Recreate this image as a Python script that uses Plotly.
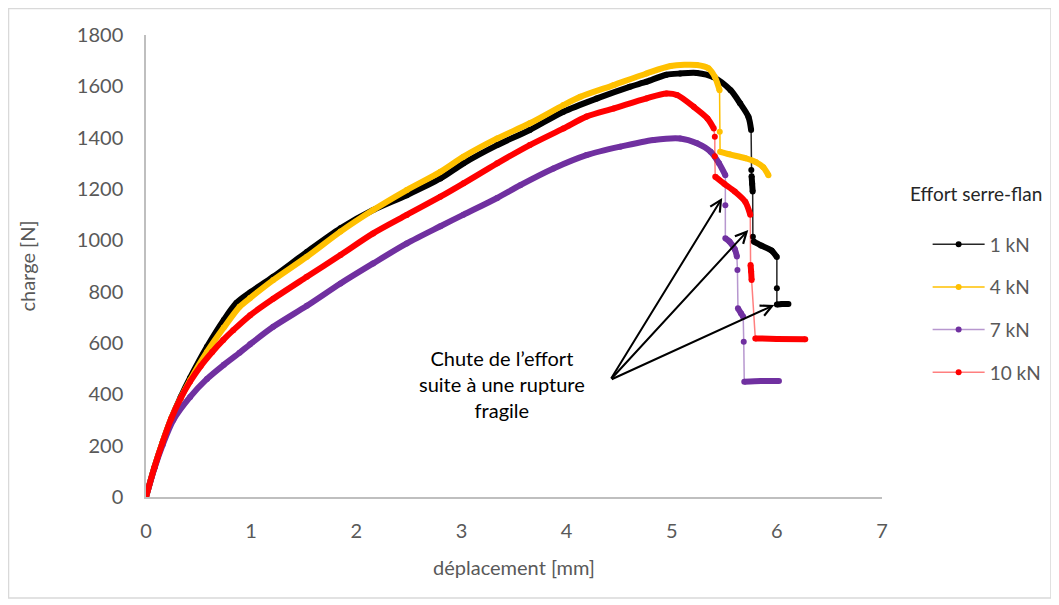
import plotly.graph_objects as go

# ── Data ────────────────────────────────────────────────────────────────────
# Each series is split into continuous parts; between two parts the load
# drops (brittle failure) and the isolated points of that drop are listed
# in drop_x / drop_y, one list per gap.
labels = ["1 kN", "4 kN", "7 kN", "10 kN"]

x_1kn = [
    [0, 0.08, 0.16, 0.24, 0.33, 0.42, 0.58, 0.74, 0.86, 0.99, 1.21, 1.53, 1.85,
     2.16, 2.48, 2.8, 3.02, 3.34, 3.65, 3.97, 4.29, 4.6, 4.76, 4.95, 5.08, 5.24,
     5.4, 5.56, 5.65, 5.73, 5.755],
    [5.76, 5.765, 5.77],
    [5.78, 5.85, 5.95, 6.0],
    [6.0, 6.05, 6.11],
]
y_1kn = [
    [0, 115, 215, 305, 390, 465, 585, 690, 756, 797, 858, 955, 1047,
     1118, 1176, 1241, 1300, 1371, 1430, 1501, 1553, 1598, 1618, 1645, 1650, 1652,
     1635, 1585, 1534, 1481, 1430],
    [1250, 1220, 1190],
    [995, 980, 960, 935],
    [750, 752, 752],
]
drop_x_1kn = [[5.757], [5.772], [6.0]]
drop_y_1kn = [[1274], [1014], [813]]

x_4kn = [
    [0, 0.08, 0.16, 0.24, 0.33, 0.42, 0.58, 0.74, 0.89, 0.99, 1.21, 1.53, 1.85,
     2.16, 2.48, 2.8, 3.02, 3.34, 3.65, 3.97, 4.13, 4.45, 4.76, 4.99, 5.24, 5.35,
     5.41, 5.455],
    [5.46, 5.55, 5.7, 5.8, 5.87, 5.92],
]
y_4kn = [
    [0, 115, 215, 305, 385, 455, 565, 660, 741, 775, 845, 936, 1034,
     1118, 1196, 1267, 1326, 1397, 1456, 1527, 1559, 1605, 1650, 1679, 1683, 1670,
     1637, 1585],
    [1345, 1335, 1320, 1305, 1285, 1254],
]
drop_x_4kn = [[5.457]]
drop_y_4kn = [[1423]]

x_7kn = [
    [0, 0.08, 0.16, 0.26, 0.42, 0.58, 0.74, 0.89, 0.99, 1.21, 1.53, 1.85, 2.16,
     2.48, 2.8, 3.02, 3.34, 3.56, 3.875, 4.19, 4.51, 4.83, 5.08, 5.24, 5.37,
     5.45, 5.51],
    [5.51, 5.55, 5.6, 5.62],
    [5.63, 5.66, 5.68],
    [5.69, 5.85, 6.02],
]
y_7kn = [
    [0, 112, 205, 300, 390, 460, 515, 562, 595, 663, 745, 832, 910,
     988, 1055, 1100, 1165, 1215, 1280, 1332, 1365, 1391, 1397, 1378, 1345,
     1300, 1254],
    [1008, 995, 965, 937],
    [735, 715, 702],
    [449, 452, 452],
]
drop_x_7kn = [[5.51], [5.625], [5.685]]
drop_y_7kn = [[1137], [884], [605]]

x_10kn = [
    [0, 0.08, 0.16, 0.24, 0.33, 0.42, 0.52, 0.63, 0.735, 0.83, 0.99, 1.21, 1.53,
     1.85, 2.16, 2.48, 2.8, 3.02, 3.34, 3.65, 3.97, 4.19, 4.45, 4.76, 4.95, 5.05,
     5.21, 5.34, 5.40],
    [5.414, 5.5, 5.6, 5.7, 5.747],
    [5.75, 5.755, 5.76],
    [5.795, 6.0, 6.27],
]
y_10kn = [
    [0, 115, 215, 305, 385, 450, 510, 565, 612, 650, 708, 772, 858,
     943, 1027, 1099, 1170, 1222, 1300, 1371, 1436, 1482, 1514, 1553, 1572, 1566,
     1520, 1475, 1436],
    [1248, 1220, 1190, 1150, 1100],
    [904, 880, 845],
    [618, 616, 615],
]
drop_x_10kn = [[5.41, 5.41], [], []]
drop_y_10kn = [[1404, 1328], [], []]

x_ticks = [0, 1, 2, 3, 4, 5, 6, 7]
y_ticks = [0, 200, 400, 600, 800, 1000, 1200, 1400, 1600, 1800]

COLORS = ["#000000", "#FFC000", "#7030A0", "#FF0000"]
THIN = ["rgba(0,0,0,0.85)", "#FFC000", "rgba(112,48,160,0.5)", "rgba(255,0,0,0.5)"]
FONT = "Lato, 'Open Sans', sans-serif"
GREY = "#595959"

series = [
    (x_1kn, y_1kn, drop_x_1kn, drop_y_1kn),
    (x_4kn, y_4kn, drop_x_4kn, drop_y_4kn),
    (x_7kn, y_7kn, drop_x_7kn, drop_y_7kn),
    (x_10kn, y_10kn, drop_x_10kn, drop_y_10kn),
]


def _join(parts):
    out = []
    for i, p in enumerate(parts):
        if i:
            out.append(None)
        out.extend(p)
    return out


def _full_path(xs, ys, dx, dy):
    """Parts and drop points in curve order."""
    fx, fy = list(xs[0]), list(ys[0])
    for k in range(1, len(xs)):
        fx += dx[k - 1] + xs[k]
        fy += dy[k - 1] + ys[k]
    return fx, fy


fig = go.Figure()

for i, (xs, ys, dx, dy) in enumerate(series):
    fx, fy = _full_path(xs, ys, dx, dy)
    # thin connector + markers (also gives the legend entry)
    fig.add_trace(go.Scatter(
        x=fx, y=fy,
        mode="lines+markers",
        name=labels[i],
        legendgroup=labels[i],
        line=dict(color=THIN[i], width=1.5),
        marker=dict(color=COLORS[i], size=6),
    ))
    # dense measured parts drawn thick
    fig.add_trace(go.Scatter(
        x=_join(xs), y=_join(ys),
        mode="lines",
        legendgroup=labels[i],
        showlegend=False,
        line=dict(color=COLORS[i], width=6, shape="spline", smoothing=0.8),
        connectgaps=False,
        hoverinfo="skip",
    ))

# arrows pointing at the drops
tail = (4.415, 456)
for hx, hy in [(5.48, 1165), (5.728, 1040), (5.975, 748)]:
    fig.add_annotation(
        x=hx, y=hy, ax=tail[0], ay=tail[1],
        xref="x", yref="y", axref="x", ayref="y",
        text="", showarrow=True,
        arrowhead=5, arrowsize=1.1, arrowwidth=2, arrowcolor="#000000",
    )

fig.add_annotation(
    x=3.39, y=440, xref="x", yref="y",
    text="Chute de l’effort<br>suite à une rupture<br>fragile",
    showarrow=False, align="center",
    font=dict(family=FONT, size=20, color="#000000"),
)

# legend title
fig.add_annotation(
    x=1.128, y=0.658, xref="paper", yref="paper",
    xanchor="center", yanchor="middle",
    text="Effort serre-flan", showarrow=False,
    font=dict(family=FONT, size=19, color="#262626"),
)

# chart area border
fig.add_shape(
    type="rect", xref="paper", yref="paper",
    x0=-0.1868, x1=1.2296, y0=-0.2186, y1=1.0574,
    line=dict(color="#D9D9D9", width=1.5),
)

fig.update_layout(
    width=1059, height=605,
    paper_bgcolor="white", plot_bgcolor="white",
    margin=dict(l=138, r=185, t=27, b=116),
    font=dict(family=FONT, color=GREY, size=18),
    showlegend=True,
    legend=dict(
        x=1.062, y=0.588, xanchor="left", yanchor="top",
        font=dict(family=FONT, size=19, color=GREY),
        itemwidth=52, tracegroupgap=15, traceorder="grouped",
        bgcolor="rgba(0,0,0,0)",
    ),
    xaxis=dict(
        range=[0, 7], tickvals=x_ticks, showgrid=False, zeroline=False,
        showline=True, linecolor="#BFBFBF", linewidth=1.5,
        ticks="", tickfont=dict(size=20, color=GREY), ticklabelstandoff=15,
        title=dict(text="déplacement [mm]", font=dict(size=20, color=GREY), standoff=20),
    ),
    yaxis=dict(
        range=[0, 1800], tickvals=y_ticks, showgrid=False, zeroline=False,
        showline=True, linecolor="#BFBFBF", linewidth=1.5,
        ticks="", tickfont=dict(size=20, color=GREY), ticklabelstandoff=17,
        title=dict(text="charge [N]", font=dict(size=20, color=GREY), standoff=36),
    ),
)

fig.write_html("out.html")
